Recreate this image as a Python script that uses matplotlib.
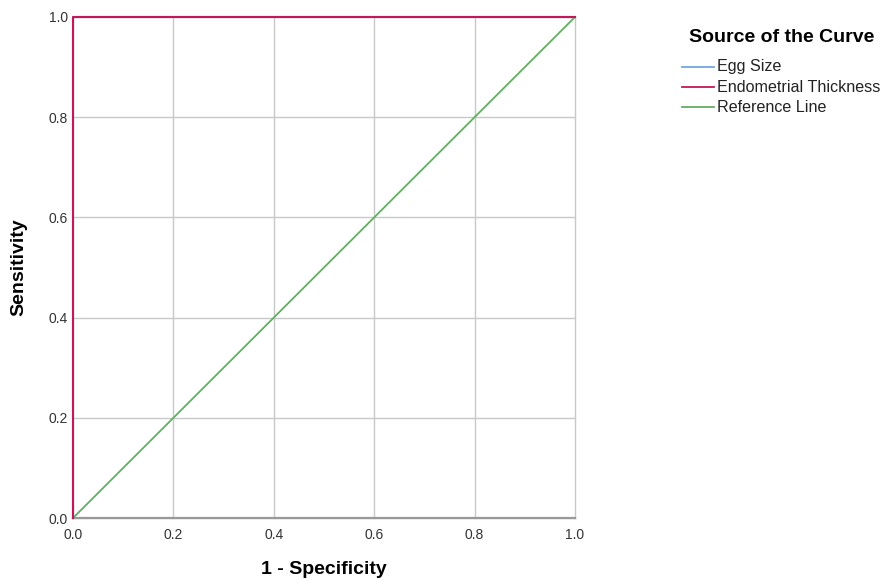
import matplotlib
matplotlib.use("Agg")
import matplotlib.pyplot as plt
from matplotlib.lines import Line2D

plt.rcParams['font.family'] = ['Liberation Sans', 'DejaVu Sans']

egg_fpr = [0.0, 0.0, 1.0]
egg_tpr = [0.0, 1.0, 1.0]
endo_fpr = [0.0, 0.0, 1.0]
endo_tpr = [0.0, 1.0, 1.0]
ref_x = [0.0, 1.0]
ref_y = [0.0, 1.0]
ticks = [0.0, 0.2, 0.4, 0.6, 0.8, 1.0]
tick_labels = ["0.0", "0.2", "0.4", "0.6", "0.8", "1.0"]
series_names = ["Egg Size", "Endometrial Thickness", "Reference Line"]
colors = ["#6FA8DC", "#C2185B", "#62AE62"]

W, H = 884, 580
fig = plt.figure(figsize=(W / 100, H / 100), dpi=100)
x0, x1, y0, y1 = 73, 575, 17, 518
ax = fig.add_axes([x0 / W, 1 - y1 / H, (x1 - x0) / W, (y1 - y0) / H])

ax.plot(ref_x, ref_y, color=colors[2], lw=1.3, zorder=3, clip_on=False)
ax.plot(egg_fpr, egg_tpr, color=colors[0], lw=1.5, zorder=4, clip_on=False)
ax.plot(endo_fpr, endo_tpr, color=colors[1], lw=1.5, zorder=5, clip_on=False)

ax.set_xlim(0, 1)
ax.set_ylim(0, 1)
ax.set_xticks(ticks)
ax.set_xticklabels(tick_labels)
ax.set_yticks(ticks)
ax.set_yticklabels(tick_labels)
ax.tick_params(length=0, labelsize=10, colors="#333333")
ax.tick_params(axis="x", pad=7)
ax.tick_params(axis="y", pad=3.5)
ax.grid(True, color="#C8C8C8", lw=1)
ax.set_axisbelow(True)
for gl in ax.get_xgridlines() + ax.get_ygridlines():
    gl.set_clip_on(False)
for s in ["top", "right", "left"]:
    ax.spines[s].set_visible(False)
ax.spines["bottom"].set_color("#999999")
ax.spines["bottom"].set_linewidth(1.6)

ax.set_xlabel("1 - Specificity", fontsize=14, fontweight="bold")
ax.xaxis.label.set_va("center")
ax.xaxis.set_label_coords(0.5, (y1 - 570) / (y1 - y0))
ax.set_ylabel("Sensitivity", fontsize=14, fontweight="bold")
ax.yaxis.label.set_va("center")
ax.yaxis.set_label_coords((19 - x0) / (x1 - x0), 0.5)

# legend
fig.text(782 / W, 1 - 37 / H, "Source of the Curve", fontsize=14,
         fontweight="bold", ha="center", va="center")
for i, (name, c) in enumerate(zip(series_names, colors)):
    yy = 1 - (67 + 20 * i) / H
    fig.add_artist(Line2D([682 / W, 714 / W], [yy, yy], color=c, lw=1.3,
                          transform=fig.transFigure))
    fig.text(717 / W, yy, name, fontsize=11.6, ha="left", va="center",
             color="#222222")

fig.savefig("out.png", dpi=100)
